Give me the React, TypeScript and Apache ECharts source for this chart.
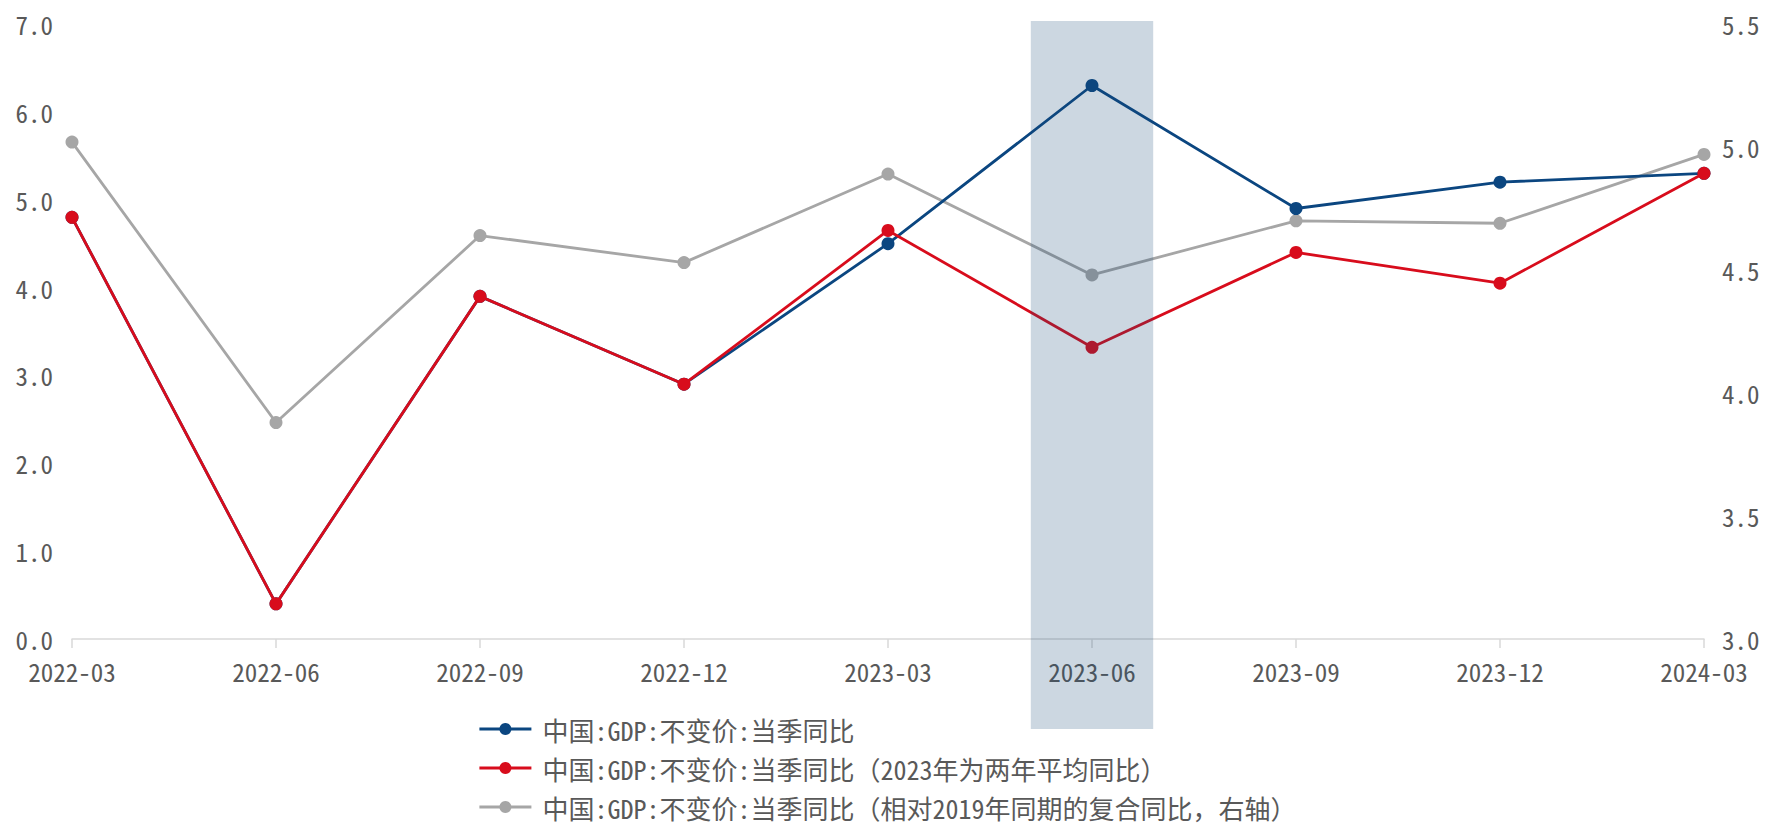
import React, { useEffect, useRef } from "react";
import * as echarts from "echarts";

const categories = ["2022-03", "2022-06", "2022-09", "2022-12", "2023-03", "2023-06", "2023-09", "2023-12", "2024-03"];
const gdpYoY = [4.8, 0.4, 3.9, 2.9, 4.5, 6.3, 4.9, 5.2, 5.3];
const gdpTwoYearAvg = [4.8, 0.4, 3.9, 2.9, 4.65, 3.32, 4.4, 4.05, 5.3];
const gdpVs2019 = [5.02, 3.88, 4.64, 4.53, 4.89, 4.48, 4.7, 4.69, 4.97];
const seriesNames = [
  "中国:GDP:不变价:当季同比",
  "中国:GDP:不变价:当季同比（2023年为两年平均同比）",
  "中国:GDP:不变价:当季同比（相对2019年同期的复合同比，右轴）",
];
const highlightCategory = "2023-06";

const FONT = "'Noto Sans Mono CJK SC', 'Noto Sans CJK SC', sans-serif";

export default function App() {
  const ref = useRef<HTMLDivElement>(null);
  useEffect(() => {
    document.body.style.margin = "0";
    if (!ref.current) return;
    const chart = echarts.init(ref.current, undefined, { renderer: "svg" });
    const labelStyle = { color: "#595959", fontSize: 25, fontFamily: FONT };
    chart.setOption({
      animation: false,
      textStyle: { fontFamily: FONT },
      grid: { left: 72, right: 65, top: 24, bottom: 189 },
      legend: {
        orient: "vertical",
        left: 478,
        top: 716,
        height: 106,
        padding: 0,
        itemWidth: 52,
        itemHeight: 15,
        itemGap: 13,
        data: seriesNames,
        lineStyle: { width: 2.8 },
        textStyle: { color: "#595959", fontSize: 26, fontFamily: FONT, lineHeight: 26, padding: [0, 0, 0, 6] },
      },
      xAxis: {
        type: "category",
        data: categories,
        boundaryGap: false,
        axisLine: { lineStyle: { color: "#D9D9D9", width: 1.5 } },
        axisTick: { show: true, length: 9, lineStyle: { color: "#D9D9D9", width: 1.5 } },
        axisLabel: { ...labelStyle, margin: 19 },
      },
      yAxis: [
        {
          type: "value",
          min: 0,
          max: 7,
          interval: 1,
          axisLine: { show: false },
          axisTick: { show: false },
          splitLine: { show: false },
          axisLabel: { ...labelStyle, margin: 19, formatter: (v: number) => v.toFixed(1) },
        },
        {
          type: "value",
          min: 3,
          max: 5.5,
          interval: 0.5,
          position: "right",
          axisLine: { show: false },
          axisTick: { show: false },
          splitLine: { show: false },
          axisLabel: { ...labelStyle, margin: 18, formatter: (v: number) => v.toFixed(1) },
        },
      ],
      series: [
        {
          name: seriesNames[0],
          type: "line",
          data: gdpYoY,
          yAxisIndex: 0,
          z: 3,
          symbol: "circle",
          symbolSize: 13,
          lineStyle: { color: "#0B4680", width: 2.8 },
          itemStyle: { color: "#0B4680" },
        },
        {
          name: seriesNames[1],
          type: "line",
          data: gdpTwoYearAvg,
          yAxisIndex: 0,
          z: 4,
          symbol: "circle",
          symbolSize: 13,
          lineStyle: { color: "#D80C1C", width: 2.8 },
          itemStyle: { color: "#D80C1C" },
        },
        {
          name: seriesNames[2],
          type: "line",
          data: gdpVs2019,
          yAxisIndex: 1,
          z: 2,
          symbol: "circle",
          symbolSize: 13,
          lineStyle: { color: "#A6A6A6", width: 2.8 },
          itemStyle: { color: "#A6A6A6" },
        },
      ],
    });
    const cx = chart.convertToPixel({ xAxisIndex: 0 }, highlightCategory) as number;
    const c0 = chart.convertToPixel({ xAxisIndex: 0 }, categories[0]) as number;
    const c1 = chart.convertToPixel({ xAxisIndex: 0 }, categories[1]) as number;
    const w = (c1 - c0) * 0.6;
    chart.setOption({
      graphic: [
        {
          type: "rect",
          z: 100,
          silent: true,
          shape: { x: cx - w / 2, y: 21, width: w, height: 708 },
          style: { fill: "rgba(25,75,120,0.22)" },
        },
      ],
    });
    return () => chart.dispose();
  }, []);
  return <div ref={ref} style={{ width: 1769, height: 828 }} />;
}
